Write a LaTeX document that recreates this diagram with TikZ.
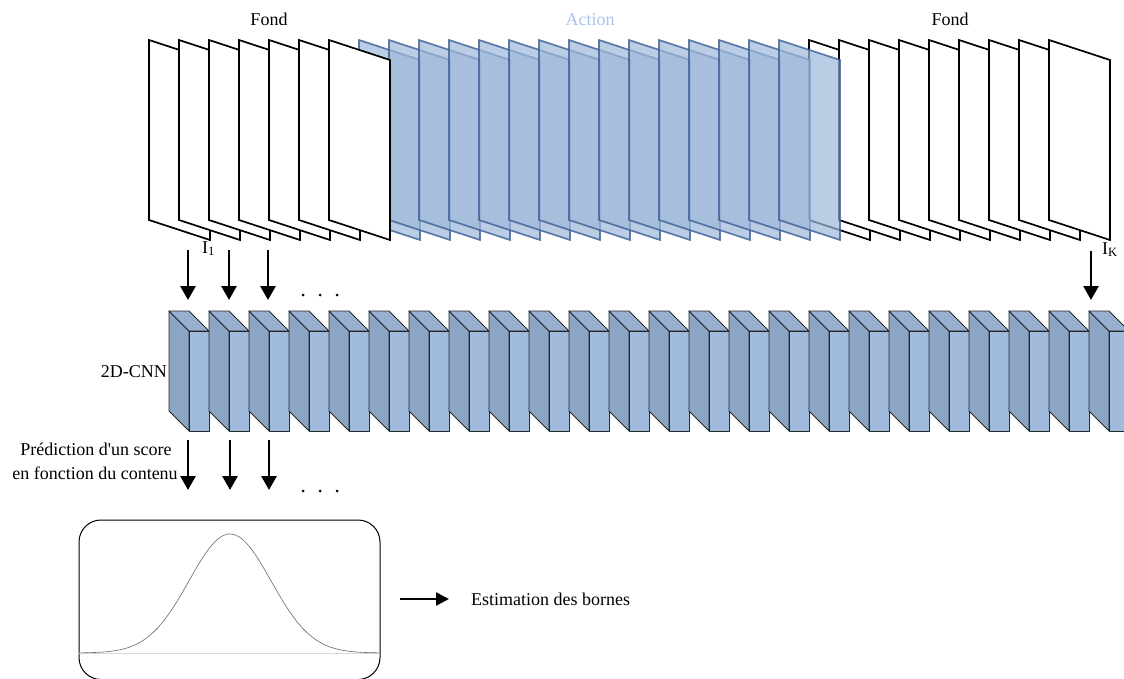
\documentclass[tikz,border=0pt]{standalone}
\usepackage{fontspec}
\setmainfont{Liberation Serif}[Ligatures=TeXOff]
\usetikzlibrary{arrows.meta}

\definecolor{frameblue}{HTML}{9EB8DA}
\definecolor{frameedge}{HTML}{3C5F94}
\definecolor{actiontext}{HTML}{A9C4EB}
\definecolor{cnnfront}{HTML}{A0BBDC}
\definecolor{cnnside}{HTML}{8DA5C5}
\definecolor{cnntop}{HTML}{98B0CF}

\tikzset{
  whiteframe/.style={draw=black, line width=1.7pt, fill=white},
  blueframe/.style={draw=frameedge, draw opacity=0.8, fill=frameblue, fill opacity=0.7, line width=1.7pt},
  cnnface/.style={draw=black!85, line width=0.9pt, line join=round},
  txt/.style={font=\fontsize{18}{22}\selectfont, inner sep=0pt},
  flow/.style={line width=2.8pt, -{Triangle[length=14pt,width=15pt]}},
  smallflow/.style={line width=2.6pt, -{Triangle[length=13pt,width=13pt]}},
  dotmark/.style={fill=black, circle, inner sep=0pt, minimum size=3pt}
}

\begin{document}
\begin{tikzpicture}[x=1pt, y=-1pt]
\useasboundingbox (0,0) rectangle (1124,679);
\clip (0,0) rectangle (1124,679);

% video frames: trailing background, action (semi-transparent), leading background
\foreach \fx in {809,839,...,1049}
  \draw[whiteframe] (\fx,40) -- ++(61,20) -- ++(0,180) -- ++(-61,-20) -- cycle;
\foreach \fx in {359,389,...,779}
  \draw[blueframe] (\fx,40) -- ++(61,20) -- ++(0,180) -- ++(-61,-20) -- cycle;
\foreach \fx in {149,179,...,329}
  \draw[whiteframe] (\fx,40) -- ++(61,20) -- ++(0,180) -- ++(-61,-20) -- cycle;

% frame group titles
\node[txt, anchor=base] (fondL) at (269,26) {Fond};
\node[txt, anchor=base, text=actiontext] (action) at (590,26) {Action};
\node[txt, anchor=base] (fondR) at (950,26) {Fond};

% first and last frame labels
\node[txt, anchor=base west] (ione) at (202,253) {I\textsubscript{1}};
\node[txt, anchor=base west] (ik) at (1102,254) {I\textsubscript{K}};

% 2D-CNN blocks
\foreach \bx in {169,209,...,1089} {
  \draw[cnnface, fill=cnnside] (\bx,311) -- ++(20,20) -- ++(0,100) -- ++(-20,-20) -- cycle;
  \draw[cnnface, fill=cnntop] (\bx,311) -- ++(20,0) -- ++(20,20) -- ++(-20,0) -- cycle;
  \draw[cnnface, fill=cnnfront] (\bx+20,331) rectangle ++(20,100);
}
\node[txt, anchor=base east] (cnn) at (167,377) {2D-CNN};

% frames -> CNN
\coordinate (in1s) at (188,250);  \coordinate (in1e) at (188,300);
\coordinate (in2s) at (229,250);  \coordinate (in2e) at (229,300);
\coordinate (in3s) at (268,250);  \coordinate (in3e) at (268,300);
\coordinate (inKs) at (1091,251); \coordinate (inKe) at (1091,300);
\draw[flow] (in1s) -- (in1e);
\draw[flow] (in2s) -- (in2e);
\draw[flow] (in3s) -- (in3e);
\draw[flow] (inKs) -- (inKe);
\node[dotmark] (dt1) at (303,295) {};
\node[dotmark] (dt2) at (320,295) {};
\node[dotmark] (dt3) at (337,295) {};

% CNN -> scores
\coordinate (out1s) at (188,440); \coordinate (out1e) at (188,490);
\coordinate (out2s) at (230,440); \coordinate (out2e) at (230,490);
\coordinate (out3s) at (269,440); \coordinate (out3e) at (269,490);
\draw[flow] (out1s) -- (out1e);
\draw[flow] (out2s) -- (out2e);
\draw[flow] (out3s) -- (out3e);
\node[dotmark] (db1) at (303,491) {};
\node[dotmark] (db2) at (320,491) {};
\node[dotmark] (db3) at (337,491) {};

\node[txt, anchor=base] (pred1) at (96,455) {Prédiction d'un score};
\node[txt, anchor=base] (pred2) at (95,479) {en fonction du contenu};

% score curve panel
\draw[black, line width=1pt, rounded corners=22pt] (79,520) rectangle (380,679.5);
\draw[black!15, line width=0.8pt] (79,653) -- (380,653);
\draw[black!60, line width=0.6pt] plot[domain=79:380, samples=200, smooth]
  (\x, {653-119*exp(-0.5*((\x-230)/41)^2)});

% boundary estimation
\coordinate (estS) at (400,599);
\coordinate (estE) at (449,599);
\draw[smallflow] (estS) -- (estE);
\node[txt, anchor=base west] (est) at (471,605) {Estimation des bornes};
\end{tikzpicture}
\end{document}
